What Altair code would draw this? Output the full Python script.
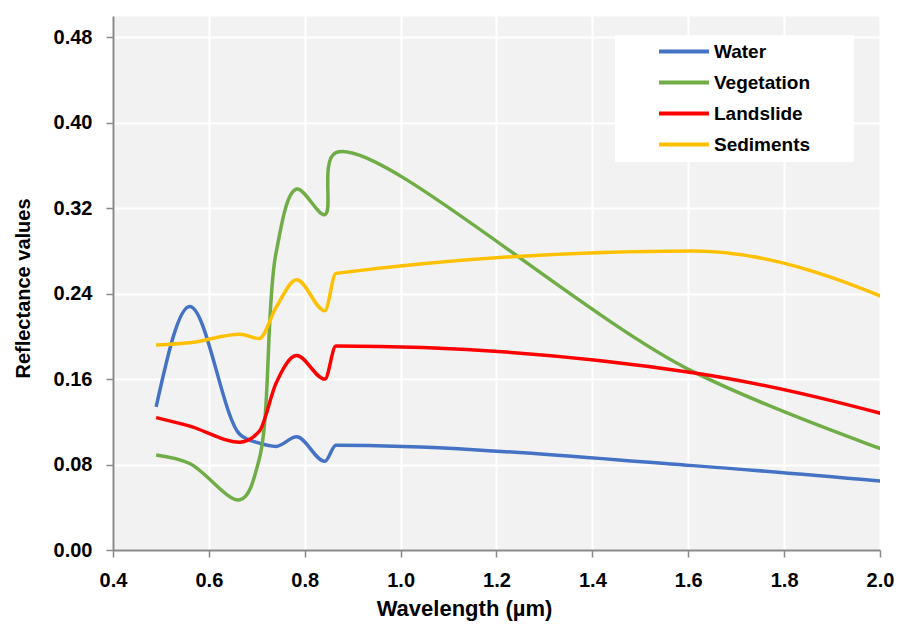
import altair as alt
import pandas as pd

# Sentinel-2 band centres (µm)
wavelength = [0.49, 0.56, 0.665, 0.705, 0.74, 0.783, 0.842, 0.865, 1.61, 2.19]

water = [0.134, 0.228, 0.108, 0.100, 0.097, 0.106, 0.083, 0.098, 0.079, 0.057]
vegetation = [0.089, 0.081, 0.047, 0.085, 0.278, 0.338, 0.314, 0.372, 0.167, 0.065]
landslide = [0.124, 0.116, 0.101, 0.111, 0.156, 0.182, 0.160, 0.191, 0.166, 0.105]
sediments = [0.192, 0.194, 0.202, 0.198, 0.227, 0.253, 0.224, 0.259, 0.280, 0.200]

series_names = ["Water", "Vegetation", "Landslide", "Sediments"]
series_colors = ["#4472C4", "#70AD47", "#FF0000", "#FFC000"]

x_ticks = [0.4, 0.6, 0.8, 1.0, 1.2, 1.4, 1.6, 1.8, 2.0]
y_ticks = [0.0, 0.08, 0.16, 0.24, 0.32, 0.40, 0.48]

rows = []
for name, vals in zip(series_names, [water, vegetation, landslide, sediments]):
    for w, v in zip(wavelength, vals):
        rows.append({"Wavelength": w, "Reflectance": v, "Series": name})
df = pd.DataFrame(rows)

FONT = "Liberation Sans"
AXIS_GRAY = "#898989"

x_axis = alt.Axis(
    values=x_ticks, format=".1f", title="Wavelength (µm)",
    labelFont=FONT, labelFontSize=20, labelFontWeight="bold", labelColor="#000000",
    labelPadding=13, tickSize=7, tickWidth=1.5, tickColor=AXIS_GRAY,
    domainColor=AXIS_GRAY, domainWidth=2,
    grid=True, gridColor="#FFFFFF", gridWidth=2, gridOpacity=1,
    titleFont=FONT, titleFontSize=22, titleFontWeight="bold", titleColor="#000000",
    titleX=351, titleY=65, titleBaseline="alphabetic", titleAlign="center", titleAnchor="start",
    labelFlush=False, labelOverlap=False,
)
y_axis = alt.Axis(
    values=y_ticks, format=".2f", title="Reflectance values",
    labelFont=FONT, labelFontSize=20, labelFontWeight="bold", labelColor="#000000",
    labelPadding=14, tickSize=7, tickWidth=1.5, tickColor=AXIS_GRAY,
    domainColor=AXIS_GRAY, domainWidth=2,
    grid=True, gridColor="#FFFFFF", gridWidth=2, gridOpacity=1,
    titleFont=FONT, titleFontSize=20, titleFontWeight="bold", titleColor="#000000",
    titleX=-84, titleY=272, titleBaseline="alphabetic", titleAlign="center", titleAngle=270,
    titleAnchor="start",
    labelOverlap=False,
)

# legend: an invisible title on the right widens the white box like the original
legend = alt.Legend(
    title="MM", titleOrient="right", titleOpacity=0, titleFont=FONT, titleFontSize=19,
    titleFontWeight="bold", titlePadding=5,
    orient="none", legendX=502, legendY=19,
    symbolType="stroke", symbolSize=2500, symbolStrokeWidth=4,
    labelFont=FONT, labelFontSize=19, labelFontWeight="bold", labelColor="#000000",
    labelOffset=3, padding=7, rowPadding=11, clipHeight=19, symbolOffset=35,
    fillColor="#FFFFFF",
)

base = alt.Chart(df).encode(
    x=alt.X("Wavelength:Q", scale=alt.Scale(domain=[0.4, 2.0], nice=False, zero=False), axis=x_axis),
    y=alt.Y("Reflectance:Q", scale=alt.Scale(domain=[0, 0.5], nice=False), axis=y_axis),
    color=alt.Color("Series:N", sort=series_names,
                    scale=alt.Scale(domain=series_names, range=series_colors), legend=legend),
)

water_layer = base.transform_filter(
    alt.FieldOneOfPredicate(field="Series", oneOf=["Water"])
).mark_line(interpolate="monotone", strokeWidth=3.5, clip=True)

veg_layer = base.transform_filter(
    alt.FieldOneOfPredicate(field="Series", oneOf=["Vegetation"])
).mark_line(interpolate="catmull-rom", strokeWidth=3.5, clip=True)

other_layer = base.transform_filter(
    alt.FieldOneOfPredicate(field="Series", oneOf=["Landslide", "Sediments"])
).mark_line(interpolate="monotone", strokeWidth=3.5, clip=True)

chart = alt.layer(water_layer, veg_layer, other_layer).properties(
    width=767, height=534,
    autosize=alt.AutoSizeParams(type="none"),
    padding={"left": 113, "top": 16, "right": 27, "bottom": 74},
    background="#FFFFFF",
).configure_view(
    fill="#F2F2F2", strokeOpacity=0
)

chart.save("out.html", embed_options={"renderer": "svg", "actions": False})
